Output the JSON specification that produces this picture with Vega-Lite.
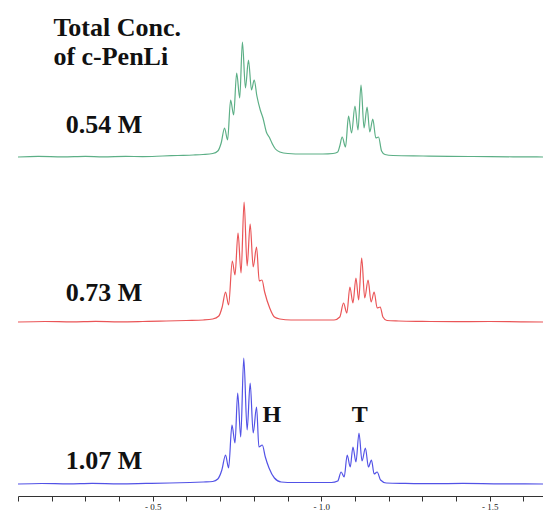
{
  "$schema": "https://vega.github.io/schema/vega-lite/v6.json",
  "padding": {"left": 15, "top": 0, "right": 0, "bottom": 0},
  "autosize": {"type": "pad"},
  "background": "white",
  "spacing": 0,
  "config": {"view": {"stroke": null}, "concat": {"spacing": 0}},
  "resolve": {"scale": {"y": "independent"}},
  "datasets": {
    "spectra": [
      {"conc":"0.54 M","shift":-0.100,"intensity":0},{"conc":"0.54 M","shift":-0.160,"intensity":0.6},{"conc":"0.54 M","shift":-0.233,"intensity":0.2},{"conc":"0.54 M","shift":-0.300,"intensity":0.7},{"conc":"0.54 M","shift":-0.352,"intensity":0.2},{"conc":"0.54 M","shift":-0.420,"intensity":0.6},{"conc":"0.54 M","shift":-0.470,"intensity":0.4},{"conc":"0.54 M","shift":-0.530,"intensity":1},{"conc":"0.54 M","shift":-0.574,"intensity":1.5},{"conc":"0.54 M","shift":-0.620,"intensity":2},{"conc":"0.54 M","shift":-0.649,"intensity":2.5},{"conc":"0.54 M","shift":-0.678,"intensity":3.5},{"conc":"0.54 M","shift":-0.693,"intensity":6},{"conc":"0.54 M","shift":-0.703,"intensity":14},{"conc":"0.54 M","shift":-0.713,"intensity":29},{"conc":"0.54 M","shift":-0.722,"intensity":17},{"conc":"0.54 M","shift":-0.731,"intensity":57},{"conc":"0.54 M","shift":-0.740,"intensity":42},{"conc":"0.54 M","shift":-0.749,"intensity":84},{"conc":"0.54 M","shift":-0.758,"intensity":59},{"conc":"0.54 M","shift":-0.766,"intensity":115},{"conc":"0.54 M","shift":-0.775,"intensity":69},{"conc":"0.54 M","shift":-0.784,"intensity":97},{"conc":"0.54 M","shift":-0.793,"intensity":67},{"conc":"0.54 M","shift":-0.801,"intensity":77},{"conc":"0.54 M","shift":-0.809,"intensity":61},{"conc":"0.54 M","shift":-0.819,"intensity":47},{"conc":"0.54 M","shift":-0.827,"intensity":39},{"conc":"0.54 M","shift":-0.837,"intensity":25},{"conc":"0.54 M","shift":-0.847,"intensity":19},{"conc":"0.54 M","shift":-0.855,"intensity":13},{"conc":"0.54 M","shift":-0.864,"intensity":8},{"conc":"0.54 M","shift":-0.877,"intensity":5},{"conc":"0.54 M","shift":-0.901,"intensity":3.5},{"conc":"0.54 M","shift":-0.946,"intensity":3},{"conc":"0.54 M","shift":-1.005,"intensity":3},{"conc":"0.54 M","shift":-1.035,"intensity":3.5},{"conc":"0.54 M","shift":-1.049,"intensity":5},{"conc":"0.54 M","shift":-1.055,"intensity":11},{"conc":"0.54 M","shift":-1.062,"intensity":20},{"conc":"0.54 M","shift":-1.072,"intensity":10},{"conc":"0.54 M","shift":-1.081,"intensity":41},{"conc":"0.54 M","shift":-1.090,"intensity":24},{"conc":"0.54 M","shift":-1.100,"intensity":51},{"conc":"0.54 M","shift":-1.109,"intensity":27},{"conc":"0.54 M","shift":-1.118,"intensity":72},{"conc":"0.54 M","shift":-1.127,"intensity":29},{"conc":"0.54 M","shift":-1.136,"intensity":50},{"conc":"0.54 M","shift":-1.144,"intensity":25},{"conc":"0.54 M","shift":-1.153,"intensity":38},{"conc":"0.54 M","shift":-1.162,"intensity":19},{"conc":"0.54 M","shift":-1.170,"intensity":20},{"conc":"0.54 M","shift":-1.179,"intensity":6},{"conc":"0.54 M","shift":-1.189,"intensity":2.5},{"conc":"0.54 M","shift":-1.213,"intensity":1.5},{"conc":"0.54 M","shift":-1.302,"intensity":1},{"conc":"0.54 M","shift":-1.380,"intensity":0.6},{"conc":"0.54 M","shift":-1.450,"intensity":0.5},{"conc":"0.54 M","shift":-1.569,"intensity":0.2},{"conc":"0.54 M","shift":-1.667,"intensity":0},
      {"conc":"0.73 M","shift":-0.100,"intensity":0},{"conc":"0.73 M","shift":-0.180,"intensity":0.5},{"conc":"0.73 M","shift":-0.260,"intensity":0.1},{"conc":"0.73 M","shift":-0.330,"intensity":0.6},{"conc":"0.73 M","shift":-0.400,"intensity":0.2},{"conc":"0.73 M","shift":-0.470,"intensity":0.5},{"conc":"0.73 M","shift":-0.540,"intensity":1},{"conc":"0.73 M","shift":-0.600,"intensity":1.5},{"conc":"0.73 M","shift":-0.650,"intensity":2},{"conc":"0.73 M","shift":-0.678,"intensity":3},{"conc":"0.73 M","shift":-0.696,"intensity":6},{"conc":"0.73 M","shift":-0.706,"intensity":15},{"conc":"0.73 M","shift":-0.716,"intensity":30},{"conc":"0.73 M","shift":-0.725,"intensity":17},{"conc":"0.73 M","shift":-0.736,"intensity":61},{"conc":"0.73 M","shift":-0.744,"intensity":47},{"conc":"0.73 M","shift":-0.753,"intensity":89},{"conc":"0.73 M","shift":-0.762,"intensity":49},{"conc":"0.73 M","shift":-0.771,"intensity":120},{"conc":"0.73 M","shift":-0.780,"intensity":56},{"conc":"0.73 M","shift":-0.789,"intensity":98},{"conc":"0.73 M","shift":-0.798,"intensity":55},{"conc":"0.73 M","shift":-0.808,"intensity":75},{"conc":"0.73 M","shift":-0.816,"intensity":41},{"conc":"0.73 M","shift":-0.824,"intensity":42},{"conc":"0.73 M","shift":-0.832,"intensity":30},{"conc":"0.73 M","shift":-0.847,"intensity":14},{"conc":"0.73 M","shift":-0.861,"intensity":5},{"conc":"0.73 M","shift":-0.877,"intensity":3},{"conc":"0.73 M","shift":-0.910,"intensity":2},{"conc":"0.73 M","shift":-0.960,"intensity":2},{"conc":"0.73 M","shift":-1.010,"intensity":2},{"conc":"0.73 M","shift":-1.038,"intensity":2},{"conc":"0.73 M","shift":-1.055,"intensity":5},{"conc":"0.73 M","shift":-1.066,"intensity":19},{"conc":"0.73 M","shift":-1.076,"intensity":9},{"conc":"0.73 M","shift":-1.085,"intensity":35},{"conc":"0.73 M","shift":-1.094,"intensity":19},{"conc":"0.73 M","shift":-1.103,"intensity":44},{"conc":"0.73 M","shift":-1.111,"intensity":22},{"conc":"0.73 M","shift":-1.120,"intensity":64},{"conc":"0.73 M","shift":-1.129,"intensity":24},{"conc":"0.73 M","shift":-1.139,"intensity":42},{"conc":"0.73 M","shift":-1.148,"intensity":20},{"conc":"0.73 M","shift":-1.157,"intensity":30},{"conc":"0.73 M","shift":-1.166,"intensity":14},{"conc":"0.73 M","shift":-1.175,"intensity":15},{"conc":"0.73 M","shift":-1.183,"intensity":5},{"conc":"0.73 M","shift":-1.195,"intensity":1.5},{"conc":"0.73 M","shift":-1.230,"intensity":1},{"conc":"0.73 M","shift":-1.300,"intensity":0.6},{"conc":"0.73 M","shift":-1.400,"intensity":0.3},{"conc":"0.73 M","shift":-1.500,"intensity":0.5},{"conc":"0.73 M","shift":-1.600,"intensity":0.1},{"conc":"0.73 M","shift":-1.667,"intensity":0},
      {"conc":"1.07 M","shift":-0.100,"intensity":0},{"conc":"1.07 M","shift":-0.170,"intensity":0.5},{"conc":"1.07 M","shift":-0.250,"intensity":0.1},{"conc":"1.07 M","shift":-0.320,"intensity":0.6},{"conc":"1.07 M","shift":-0.400,"intensity":0.2},{"conc":"1.07 M","shift":-0.480,"intensity":0.6},{"conc":"1.07 M","shift":-0.550,"intensity":1},{"conc":"1.07 M","shift":-0.610,"intensity":1.5},{"conc":"1.07 M","shift":-0.650,"intensity":2},{"conc":"1.07 M","shift":-0.678,"intensity":2.5},{"conc":"1.07 M","shift":-0.693,"intensity":5},{"conc":"1.07 M","shift":-0.705,"intensity":14},{"conc":"1.07 M","shift":-0.716,"intensity":29},{"conc":"1.07 M","shift":-0.725,"intensity":16},{"conc":"1.07 M","shift":-0.735,"intensity":59},{"conc":"1.07 M","shift":-0.744,"intensity":41},{"conc":"1.07 M","shift":-0.752,"intensity":91},{"conc":"1.07 M","shift":-0.761,"intensity":47},{"conc":"1.07 M","shift":-0.770,"intensity":126},{"conc":"1.07 M","shift":-0.780,"intensity":54},{"conc":"1.07 M","shift":-0.789,"intensity":101},{"conc":"1.07 M","shift":-0.798,"intensity":51},{"conc":"1.07 M","shift":-0.808,"intensity":77},{"conc":"1.07 M","shift":-0.815,"intensity":37},{"conc":"1.07 M","shift":-0.825,"intensity":39},{"conc":"1.07 M","shift":-0.834,"intensity":27},{"conc":"1.07 M","shift":-0.845,"intensity":16},{"conc":"1.07 M","shift":-0.861,"intensity":6},{"conc":"1.07 M","shift":-0.881,"intensity":2},{"conc":"1.07 M","shift":-0.920,"intensity":1.5},{"conc":"1.07 M","shift":-0.980,"intensity":1.5},{"conc":"1.07 M","shift":-1.030,"intensity":1.5},{"conc":"1.07 M","shift":-1.049,"intensity":3},{"conc":"1.07 M","shift":-1.059,"intensity":12},{"conc":"1.07 M","shift":-1.068,"intensity":7},{"conc":"1.07 M","shift":-1.077,"intensity":29},{"conc":"1.07 M","shift":-1.086,"intensity":17},{"conc":"1.07 M","shift":-1.094,"intensity":37},{"conc":"1.07 M","shift":-1.103,"intensity":22},{"conc":"1.07 M","shift":-1.112,"intensity":51},{"conc":"1.07 M","shift":-1.121,"intensity":23},{"conc":"1.07 M","shift":-1.131,"intensity":36},{"conc":"1.07 M","shift":-1.140,"intensity":17},{"conc":"1.07 M","shift":-1.149,"intensity":24},{"conc":"1.07 M","shift":-1.157,"intensity":10},{"conc":"1.07 M","shift":-1.166,"intensity":12},{"conc":"1.07 M","shift":-1.176,"intensity":4},{"conc":"1.07 M","shift":-1.193,"intensity":1},{"conc":"1.07 M","shift":-1.250,"intensity":0.6},{"conc":"1.07 M","shift":-1.330,"intensity":0.3},{"conc":"1.07 M","shift":-1.420,"intensity":0.6},{"conc":"1.07 M","shift":-1.520,"intensity":0.2},{"conc":"1.07 M","shift":-1.667,"intensity":0}
    ],
    "labels": [
      {"panel":"0.54 M","kind":"title","text":"Total Conc.","shift":-0.205,"intensity":121},
      {"panel":"0.54 M","kind":"title","text":"of c-PenLi","shift":-0.205,"intensity":92},
      {"panel":"0.54 M","kind":"conc","text":"0.54 M","shift":-0.242,"intensity":24},
      {"panel":"0.73 M","kind":"conc","text":"0.73 M","shift":-0.242,"intensity":21},
      {"panel":"1.07 M","kind":"conc","text":"1.07 M","shift":-0.242,"intensity":15},
      {"panel":"1.07 M","kind":"peak","text":"H","shift":-0.853,"intensity":62},
      {"panel":"1.07 M","kind":"peak","text":"T","shift":-1.114,"intensity":62}
    ]
  },
  "vconcat": [
    {
      "width": 528, "height": 165,
      "encoding": {
        "x": {"field": "shift", "type": "quantitative", "scale": {"domain": [-1.667, -0.1], "reverse": true, "nice": false, "zero": false}, "axis": null},
        "y": {"field": "intensity", "type": "quantitative", "scale": {"domain": [-8, 157], "nice": false, "zero": false}, "axis": null}
      },
      "layer": [
        {"data": {"name": "spectra"}, "transform": [{"filter": "datum.conc === '0.54 M'"}],
         "mark": {"type": "line", "color": "#5caf86", "strokeWidth": 1.2, "interpolate": "monotone"},
         "encoding": {"order": {"field": "shift", "sort": "descending"}}},
        {"data": {"name": "labels"}, "transform": [{"filter": "datum.panel === '0.54 M' && datum.kind === 'title'"}],
         "mark": {"type": "text", "font": "Liberation Serif", "fontWeight": "bold", "fontSize": 26, "align": "left", "baseline": "alphabetic", "color": "#111"},
         "encoding": {"text": {"field": "text"}}},
        {"data": {"name": "labels"}, "transform": [{"filter": "datum.panel === '0.54 M' && datum.kind === 'conc'"}],
         "mark": {"type": "text", "font": "Liberation Serif", "fontWeight": "bold", "fontSize": 26, "align": "left", "baseline": "alphabetic", "color": "#111"},
         "encoding": {"text": {"field": "text"}}}
      ]
    },
    {
      "width": 528, "height": 165,
      "encoding": {
        "x": {"field": "shift", "type": "quantitative", "scale": {"domain": [-1.667, -0.1], "reverse": true, "nice": false, "zero": false}, "axis": null},
        "y": {"field": "intensity", "type": "quantitative", "scale": {"domain": [-8, 157], "nice": false, "zero": false}, "axis": null}
      },
      "layer": [
        {"data": {"name": "spectra"}, "transform": [{"filter": "datum.conc === '0.73 M'"}],
         "mark": {"type": "line", "color": "#ea5557", "strokeWidth": 1.2, "interpolate": "monotone"},
         "encoding": {"order": {"field": "shift", "sort": "descending"}}},
        {"data": {"name": "labels"}, "transform": [{"filter": "datum.panel === '0.73 M'"}],
         "mark": {"type": "text", "font": "Liberation Serif", "fontWeight": "bold", "fontSize": 26, "align": "left", "baseline": "alphabetic", "color": "#111"},
         "encoding": {"text": {"field": "text"}}}
      ]
    },
    {
      "width": 528, "height": 166,
      "encoding": {
        "x": {"field": "shift", "type": "quantitative", "scale": {"domain": [-1.667, -0.1], "reverse": true, "nice": false, "zero": false},
              "axis": {"values": [-0.1,-0.2,-0.3,-0.4,-0.5,-0.6,-0.7,-0.8,-0.9,-1.0,-1.1,-1.2,-1.3,-1.4,-1.5,-1.6],
                       "labelExpr": "datum.value == -0.5 || datum.value == -1 || datum.value == -1.5 ? '- ' + format(-datum.value, '.1f') : ''",
                       "title": null, "grid": false, "domainColor": "#333", "tickColor": "#333", "tickSize": 5,
                       "labelFont": "Liberation Serif", "labelFontSize": 9, "labelColor": "#222", "labelPadding": 1,
                       "labelOverlap": false, "labelFlush": false}},
        "y": {"field": "intensity", "type": "quantitative", "scale": {"domain": [-12, 154], "nice": false, "zero": false}, "axis": null}
      },
      "layer": [
        {"data": {"name": "spectra"}, "transform": [{"filter": "datum.conc === '1.07 M'"}],
         "mark": {"type": "line", "color": "#5252e6", "strokeWidth": 1.2, "interpolate": "monotone"},
         "encoding": {"order": {"field": "shift", "sort": "descending"}}},
        {"data": {"name": "labels"}, "transform": [{"filter": "datum.panel === '1.07 M' && datum.kind === 'conc'"}],
         "mark": {"type": "text", "font": "Liberation Serif", "fontWeight": "bold", "fontSize": 26, "align": "left", "baseline": "alphabetic", "color": "#111"},
         "encoding": {"text": {"field": "text"}}},
        {"data": {"name": "labels"}, "transform": [{"filter": "datum.panel === '1.07 M' && datum.kind === 'peak'"}],
         "mark": {"type": "text", "font": "Liberation Serif", "fontWeight": "bold", "fontSize": 24, "align": "center", "baseline": "alphabetic", "color": "#111"},
         "encoding": {"text": {"field": "text"}}}
      ]
    }
  ]
}
